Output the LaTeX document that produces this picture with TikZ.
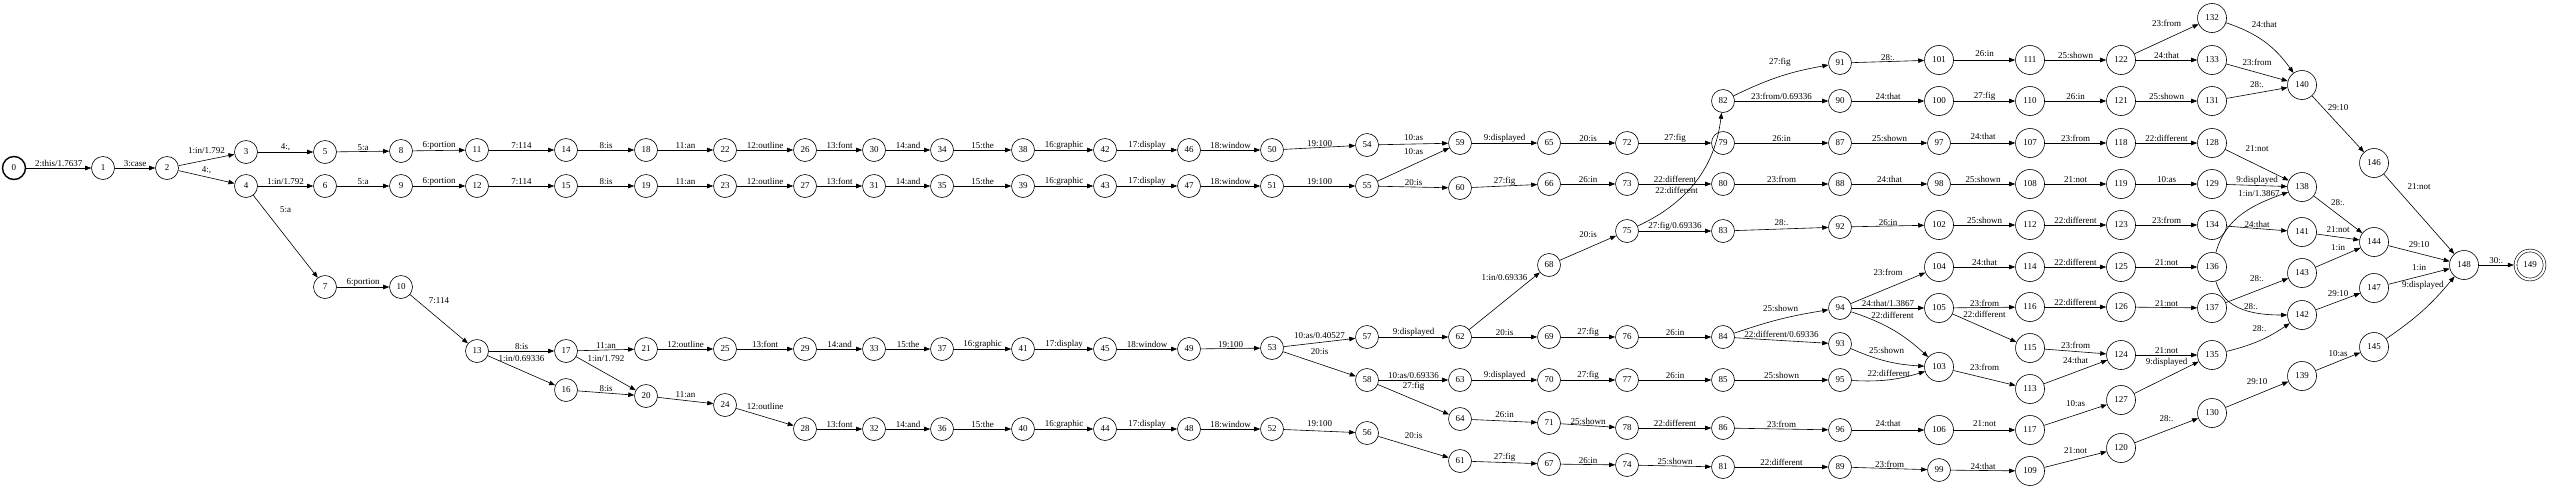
\documentclass[tikz,border=0pt]{standalone}
\usepackage{fontspec}
\setmainfont{Liberation Serif}
\usetikzlibrary{arrows.meta}

\begin{document}
\begin{tikzpicture}[
	x=1pt, y=1pt,
	>={Triangle[length=6pt, width=4.5pt]},
	every node/.style={font=\fontsize{9}{10}\selectfont},
	state/.style={circle, draw, line width=0.6pt, minimum size=23pt, inner sep=0pt},
	wide/.style={state, minimum size=29pt},
	trans/.style={->, line width=0.6pt},
	lbl/.style={above, inner sep=0.6pt}
]
	\useasboundingbox (0, 0) rectangle (2550, -488);

	% states, column by column
	\node[state, line width=1.4pt] (n0) at (14, -168) {0};
	\node[state] (n1) at (103, -168) {1};
	\node[state] (n2) at (167, -168) {2};
	\node[state] (n3) at (246, -152) {3};
	\node[state] (n4) at (246, -186) {4};
	\node[state] (n5) at (325, -152) {5};
	\node[state] (n6) at (325, -186) {6};
	\node[state] (n7) at (325, -287) {7};
	\node[state] (n8) at (401, -151) {8};
	\node[state] (n9) at (401, -186) {9};
	\node[state] (n10) at (401, -287) {10};
	\node[state] (n11) at (477, -150) {11};
	\node[state] (n12) at (477, -186) {12};
	\node[state] (n13) at (477, -351) {13};
	\node[state] (n14) at (566, -150) {14};
	\node[state] (n15) at (566, -186) {15};
	\node[state] (n17) at (566, -351) {17};
	\node[state] (n16) at (566, -390) {16};
	\node[state] (n18) at (646, -150) {18};
	\node[state] (n19) at (646, -186) {19};
	\node[state] (n21) at (646, -349) {21};
	\node[state] (n20) at (646, -396) {20};
	\node[state] (n22) at (725, -150) {22};
	\node[state] (n23) at (725, -186) {23};
	\node[state] (n25) at (725, -349) {25};
	\node[state] (n24) at (725, -405) {24};
	\node[state] (n26) at (805, -150) {26};
	\node[state] (n27) at (805, -186) {27};
	\node[state] (n29) at (805, -349) {29};
	\node[state] (n28) at (805, -429) {28};
	\node[state] (n30) at (874, -150) {30};
	\node[state] (n31) at (874, -186) {31};
	\node[state] (n33) at (874, -349) {33};
	\node[state] (n32) at (874, -429) {32};
	\node[state] (n34) at (942, -150) {34};
	\node[state] (n35) at (942, -186) {35};
	\node[state] (n37) at (942, -349) {37};
	\node[state] (n36) at (942, -429) {36};
	\node[state] (n38) at (1023, -150) {38};
	\node[state] (n39) at (1023, -186) {39};
	\node[state] (n41) at (1023, -349) {41};
	\node[state] (n40) at (1023, -429) {40};
	\node[state] (n42) at (1105, -150) {42};
	\node[state] (n43) at (1105, -186) {43};
	\node[state] (n45) at (1105, -349) {45};
	\node[state] (n44) at (1105, -429) {44};
	\node[state] (n46) at (1189, -150) {46};
	\node[state] (n47) at (1189, -186) {47};
	\node[state] (n49) at (1189, -349) {49};
	\node[state] (n48) at (1189, -429) {48};
	\node[state] (n50) at (1272, -150) {50};
	\node[state] (n51) at (1272, -186) {51};
	\node[state] (n53) at (1272, -348) {53};
	\node[state] (n52) at (1272, -429) {52};
	\node[state] (n54) at (1367, -145) {54};
	\node[state] (n55) at (1367, -186) {55};
	\node[state] (n57) at (1367, -337) {57};
	\node[state] (n58) at (1367, -380) {58};
	\node[state] (n56) at (1367, -433) {56};
	\node[state] (n59) at (1460, -143) {59};
	\node[state] (n60) at (1460, -188) {60};
	\node[state] (n62) at (1460, -337) {62};
	\node[state] (n63) at (1460, -380) {63};
	\node[state] (n64) at (1460, -419) {64};
	\node[state] (n61) at (1460, -461) {61};
	\node[state] (n65) at (1549, -143) {65};
	\node[state] (n66) at (1549, -184) {66};
	\node[state] (n68) at (1549, -265) {68};
	\node[state] (n69) at (1549, -337) {69};
	\node[state] (n70) at (1549, -380) {70};
	\node[state] (n71) at (1549, -423) {71};
	\node[state] (n67) at (1549, -464) {67};
	\node[state] (n72) at (1627, -143) {72};
	\node[state] (n73) at (1627, -184) {73};
	\node[state] (n75) at (1627, -231) {75};
	\node[state] (n76) at (1627, -337) {76};
	\node[state] (n77) at (1627, -380) {77};
	\node[state] (n78) at (1627, -428) {78};
	\node[state] (n74) at (1627, -465) {74};
	\node[state] (n82) at (1723, -101) {82};
	\node[state] (n79) at (1723, -143) {79};
	\node[state] (n80) at (1723, -184) {80};
	\node[state] (n83) at (1723, -231) {83};
	\node[state] (n84) at (1723, -337) {84};
	\node[state] (n85) at (1723, -380) {85};
	\node[state] (n86) at (1723, -428) {86};
	\node[state] (n81) at (1723, -467) {81};
	\node[state] (n91) at (1840, -63) {91};
	\node[state] (n90) at (1840, -101) {90};
	\node[state] (n87) at (1840, -143) {87};
	\node[state] (n88) at (1840, -184) {88};
	\node[state] (n92) at (1840, -227) {92};
	\node[state] (n94) at (1840, -308) {94};
	\node[state] (n93) at (1840, -344) {93};
	\node[state] (n95) at (1840, -380) {95};
	\node[state] (n96) at (1840, -430) {96};
	\node[state] (n89) at (1840, -467) {89};
	\node[wide] (n101) at (1939, -60) {101};
	\node[wide] (n100) at (1939, -101) {100};
	\node[state] (n97) at (1939, -143) {97};
	\node[state] (n98) at (1939, -184) {98};
	\node[wide] (n102) at (1939, -225) {102};
	\node[wide] (n104) at (1939, -267) {104};
	\node[wide] (n105) at (1939, -308) {105};
	\node[wide] (n103) at (1939, -367) {103};
	\node[wide] (n106) at (1939, -430) {106};
	\node[state] (n99) at (1939, -470) {99};
	\node[wide] (n111) at (2030, -60) {111};
	\node[wide] (n110) at (2030, -101) {110};
	\node[wide] (n107) at (2030, -143) {107};
	\node[wide] (n108) at (2030, -184) {108};
	\node[wide] (n112) at (2030, -225) {112};
	\node[wide] (n114) at (2030, -267) {114};
	\node[wide] (n116) at (2030, -307) {116};
	\node[wide] (n115) at (2030, -348) {115};
	\node[wide] (n113) at (2030, -389) {113};
	\node[wide] (n117) at (2030, -430) {117};
	\node[wide] (n109) at (2030, -471) {109};
	\node[wide] (n122) at (2121, -60) {122};
	\node[wide] (n121) at (2121, -101) {121};
	\node[wide] (n118) at (2121, -143) {118};
	\node[wide] (n119) at (2121, -184) {119};
	\node[wide] (n123) at (2121, -225) {123};
	\node[wide] (n125) at (2121, -267) {125};
	\node[wide] (n126) at (2121, -307) {126};
	\node[wide] (n124) at (2121, -355) {124};
	\node[wide] (n127) at (2121, -400) {127};
	\node[wide] (n120) at (2121, -448) {120};
	\node[wide] (n132) at (2212, -18) {132};
	\node[wide] (n133) at (2212, -60) {133};
	\node[wide] (n131) at (2212, -101) {131};
	\node[wide] (n128) at (2212, -143) {128};
	\node[wide] (n129) at (2212, -184) {129};
	\node[wide] (n134) at (2212, -225) {134};
	\node[wide] (n136) at (2212, -267) {136};
	\node[wide] (n137) at (2212, -308) {137};
	\node[wide] (n135) at (2212, -355) {135};
	\node[wide] (n130) at (2212, -413) {130};
	\node[wide] (n140) at (2302, -85) {140};
	\node[wide] (n138) at (2302, -187) {138};
	\node[wide] (n141) at (2302, -232) {141};
	\node[wide] (n143) at (2302, -273) {143};
	\node[wide] (n142) at (2302, -315) {142};
	\node[wide] (n139) at (2302, -376) {139};
	\node[wide] (n146) at (2374, -163) {146};
	\node[wide] (n144) at (2374, -242) {144};
	\node[wide] (n147) at (2374, -288) {147};
	\node[wide] (n145) at (2374, -347) {145};
	\node[wide] (n148) at (2464, -265) {148};
	\node[wide, double, double distance=2.2pt, outer sep=1.7pt] (n149) at (2530, -265) {149};

	% transitions
	\draw[trans] (n0) -- node [lbl] {2:this/1.7637} (n1);
	\draw[trans] (n1) -- node [lbl] {3:case} (n2);
	\draw[trans] (n2) -- node [lbl, above=5pt] {1:in/1.792} (n3);
	\draw[trans] (n2) -- node [lbl, above=2pt] {4:,} (n4);
	\draw[trans] (n3) -- node [lbl] {4:,} (n5);
	\draw[trans] (n4) -- node [lbl] {1:in/1.792} (n6);
	\draw[trans] (n4) -- node [lbl, above=23pt] {5:a} (n7);
	\draw[trans] (n5) -- node [lbl] {5:a} (n8);
	\draw[trans] (n6) -- node [lbl] {5:a} (n9);
	\draw[trans] (n7) -- node [lbl] {6:portion} (n10);
	\draw[trans] (n8) -- node [lbl] {6:portion} (n11);
	\draw[trans] (n9) -- node [lbl] {6:portion} (n12);
	\draw[trans] (n10) -- node [lbl, above=14pt] {7:114} (n13);
	\draw[trans] (n11) -- node [lbl] {7:114} (n14);
	\draw[trans] (n12) -- node [lbl] {7:114} (n15);
	\draw[trans] (n13) -- node [lbl] {8:is} (n17);
	\draw[trans] (n13) -- node [lbl, above=8pt] {1:in/0.69336} (n16);
	\draw[trans] (n14) -- node [lbl] {8:is} (n18);
	\draw[trans] (n15) -- node [lbl] {8:is} (n19);
	\draw[trans] (n16) -- node [lbl] {8:is} (n20);
	\draw[trans] (n17) -- node [lbl] {11:an} (n21);
	\draw[trans] (n17) -- node [lbl, above=11pt] {1:in/1.792} (n20);
	\draw[trans] (n18) -- node [lbl] {11:an} (n22);
	\draw[trans] (n19) -- node [lbl] {11:an} (n23);
	\draw[trans] (n20) -- node [lbl, above=2pt] {11:an} (n24);
	\draw[trans] (n21) -- node [lbl] {12:outline} (n25);
	\draw[trans] (n22) -- node [lbl] {12:outline} (n26);
	\draw[trans] (n23) -- node [lbl] {12:outline} (n27);
	\draw[trans] (n24) -- node [lbl, above=6pt] {12:outline} (n28);
	\draw[trans] (n25) -- node [lbl] {13:font} (n29);
	\draw[trans] (n26) -- node [lbl] {13:font} (n30);
	\draw[trans] (n27) -- node [lbl] {13:font} (n31);
	\draw[trans] (n28) -- node [lbl] {13:font} (n32);
	\draw[trans] (n29) -- node [lbl] {14:and} (n33);
	\draw[trans] (n30) -- node [lbl] {14:and} (n34);
	\draw[trans] (n31) -- node [lbl] {14:and} (n35);
	\draw[trans] (n32) -- node [lbl] {14:and} (n36);
	\draw[trans] (n33) -- node [lbl] {15:the} (n37);
	\draw[trans] (n34) -- node [lbl] {15:the} (n38);
	\draw[trans] (n35) -- node [lbl] {15:the} (n39);
	\draw[trans] (n36) -- node [lbl] {15:the} (n40);
	\draw[trans] (n37) -- node [lbl] {16:graphic} (n41);
	\draw[trans] (n38) -- node [lbl] {16:graphic} (n42);
	\draw[trans] (n39) -- node [lbl] {16:graphic} (n43);
	\draw[trans] (n40) -- node [lbl] {16:graphic} (n44);
	\draw[trans] (n41) -- node [lbl] {17:display} (n45);
	\draw[trans] (n42) -- node [lbl] {17:display} (n46);
	\draw[trans] (n43) -- node [lbl] {17:display} (n47);
	\draw[trans] (n44) -- node [lbl] {17:display} (n48);
	\draw[trans] (n45) -- node [lbl] {18:window} (n49);
	\draw[trans] (n46) -- node [lbl] {18:window} (n50);
	\draw[trans] (n47) -- node [lbl] {18:window} (n51);
	\draw[trans] (n48) -- node [lbl] {18:window} (n52);
	\draw[trans] (n49) -- node [lbl] {19:100} (n53);
	\draw[trans] (n50) -- node [lbl] {19:100} (n54);
	\draw[trans] (n51) -- node [lbl] {19:100} (n55);
	\draw[trans] (n52) -- node [lbl, above=3pt] {19:100} (n56);
	\draw[trans] (n53) -- node [lbl, above=3pt] {10:as/0.40527} (n57);
	\draw[trans] (n53) -- node [lbl, above=8pt] {20:is} (n58);
	\draw[trans] (n54) -- node [lbl, above=2pt] {10:as} (n59);
	\draw[trans] (n55) -- node [lbl, above=9pt] {10:as} (n59);
	\draw[trans] (n55) -- node [lbl] {20:is} (n60);
	\draw[trans] (n56) -- node [lbl, above=7pt] {20:is} (n61);
	\draw[trans] (n57) -- node [lbl] {9:displayed} (n62);
	\draw[trans] (n58) -- node [lbl] {10:as/0.69336} (n63);
	\draw[trans] (n58) -- node [lbl, above=8pt] {27:fig} (n64);
	\draw[trans] (n59) -- node [lbl] {9:displayed} (n65);
	\draw[trans] (n60) -- node [lbl] {27:fig} (n66);
	\draw[trans] (n61) -- node [lbl] {27:fig} (n67);
	\draw[trans] (n62) -- node [lbl, above=19pt] {1:in/0.69336} (n68);
	\draw[trans] (n62) -- node [lbl] {20:is} (n69);
	\draw[trans] (n63) -- node [lbl] {9:displayed} (n70);
	\draw[trans] (n64) -- node [lbl, above=2pt] {26:in} (n71);
	\draw[trans] (n65) -- node [lbl] {20:is} (n72);
	\draw[trans] (n66) -- node [lbl] {26:in} (n73);
	\draw[trans] (n67) -- node [lbl] {26:in} (n74);
	\draw[trans] (n68) -- node [lbl, above=9pt] {20:is} (n75);
	\draw[trans] (n69) -- node [lbl] {27:fig} (n76);
	\draw[trans] (n70) -- node [lbl] {27:fig} (n77);
	\draw[trans] (n71) -- node [lbl] {25:shown} (n78);
	\draw[trans] (n72) -- node [lbl] {27:fig} (n79);
	\draw[trans] (n73) -- node [lbl] {22:different} (n80);
	\draw[trans] (n75) to[out=25, in=-97] node [lbl, pos=.3, above=7pt] {22:different} (n82);
	\draw[trans] (n75) -- node [lbl] {27:fig/0.69336} (n83);
	\draw[trans] (n76) -- node [lbl] {26:in} (n84);
	\draw[trans] (n77) -- node [lbl] {26:in} (n85);
	\draw[trans] (n78) -- node [lbl] {22:different} (n86);
	\draw[trans] (n74) -- node [lbl] {25:shown} (n81);
	\draw[trans] (n79) -- node [lbl] {26:in} (n87);
	\draw[trans] (n80) -- node [lbl] {23:from} (n88);
	\draw[trans] (n82) to[bend left=8] node [lbl, above=9pt] {27:fig} (n91);
	\draw[trans] (n82) -- node [lbl] {23:from/0.69336} (n90);
	\draw[trans] (n83) -- node [lbl, above=2pt] {28:.} (n92);
	\draw[trans] (n84) to[bend left=5] node [lbl, above=7pt] {25:shown} (n94);
	\draw[trans] (n84) -- node [lbl, above=2pt] {22:different/0.69336} (n93);
	\draw[trans] (n85) -- node [lbl] {25:shown} (n95);
	\draw[trans] (n86) -- node [lbl] {23:from} (n96);
	\draw[trans] (n81) -- node [lbl] {22:different} (n89);
	\draw[trans] (n87) -- node [lbl] {25:shown} (n97);
	\draw[trans] (n88) -- node [lbl] {24:that} (n98);
	\draw[trans] (n90) -- node [lbl] {24:that} (n100);
	\draw[trans] (n91) -- node [lbl] {28:.} (n101);
	\draw[trans] (n92) -- node [lbl] {26:in} (n102);
	\draw[trans] (n94) -- node [lbl, above=12pt] {23:from} (n104);
	\draw[trans] (n94) -- node [lbl] {24:that/1.3867} (n105);
	\draw[trans] (n94) to[bend left=12] node [lbl, above=10pt] {22:different} (n103);
	\draw[trans] (n93) to[bend right=10] node [lbl, above=7pt] {25:shown} (n103);
	\draw[trans] (n95) to[bend right=10] node [lbl, above=2pt] {22:different} (n103);
	\draw[trans] (n96) -- node [lbl, above=2pt] {24:that} (n106);
	\draw[trans] (n89) -- node [lbl] {23:from} (n99);
	\draw[trans] (n97) -- node [lbl, above=2pt] {24:that} (n107);
	\draw[trans] (n98) -- node [lbl] {25:shown} (n108);
	\draw[trans] (n99) -- node [lbl] {24:that} (n109);
	\draw[trans] (n100) -- node [lbl] {27:fig} (n110);
	\draw[trans] (n101) -- node [lbl, above=2pt] {26:in} (n111);
	\draw[trans] (n102) -- node [lbl] {25:shown} (n112);
	\draw[trans] (n103) -- node [lbl, above=6pt] {23:from} (n113);
	\draw[trans] (n104) -- node [lbl] {24:that} (n114);
	\draw[trans] (n105) -- node [lbl] {23:from} (n116);
	\draw[trans] (n105) -- node [lbl, above=9pt] {22:different} (n115);
	\draw[trans] (n106) -- node [lbl, above=2pt] {21:not} (n117);
	\draw[trans] (n110) -- node [lbl] {26:in} (n121);
	\draw[trans] (n111) -- node [lbl] {25:shown} (n122);
	\draw[trans] (n107) -- node [lbl] {23:from} (n118);
	\draw[trans] (n108) -- node [lbl] {21:not} (n119);
	\draw[trans] (n112) -- node [lbl] {22:different} (n123);
	\draw[trans] (n114) -- node [lbl] {22:different} (n125);
	\draw[trans] (n116) -- node [lbl] {22:different} (n126);
	\draw[trans] (n115) -- node [lbl, above=2pt] {23:from} (n124);
	\draw[trans] (n113) -- node [lbl, above=7pt] {24:that} (n124);
	\draw[trans] (n117) -- node [lbl, above=7pt] {10:as} (n127);
	\draw[trans] (n109) -- node [lbl, above=5pt] {21:not} (n120);
	\draw[trans] (n122) -- node [lbl, above=11pt] {23:from} (n132);
	\draw[trans] (n122) -- node [lbl] {24:that} (n133);
	\draw[trans] (n121) -- node [lbl] {25:shown} (n131);
	\draw[trans] (n118) -- node [lbl] {22:different} (n128);
	\draw[trans] (n119) -- node [lbl] {10:as} (n129);
	\draw[trans] (n123) -- node [lbl] {23:from} (n134);
	\draw[trans] (n125) -- node [lbl] {21:not} (n136);
	\draw[trans] (n126) -- node [lbl] {21:not} (n137);
	\draw[trans] (n124) -- node [lbl] {21:not} (n135);
	\draw[trans] (n127) -- node [lbl, above=10pt] {9:displayed} (n135);
	\draw[trans] (n120) -- node [lbl, above=8pt] {28:.} (n130);
	\draw[trans] (n132) to[bend left=18] node [lbl, above=13pt] {24:that} (n140);
	\draw[trans] (n133) -- node [lbl, above=6pt] {23:from} (n140);
	\draw[trans] (n131) -- node [lbl, above=4pt] {28:.} (n140);
	\draw[trans] (n128) -- node [lbl, above=12pt] {21:not} (n138);
	\draw[trans] (n129) -- node [lbl] {9:displayed} (n138);
	\draw[trans] (n136) to[out=75, in=200] node [lbl, pos=.7, above=6pt] {1:in/1.3867} (n138);
	\draw[trans] (n134) -- node [lbl] {24:that} (n141);
	\draw[trans] (n137) -- node [lbl, above=8pt] {28:.} (n143);
	\draw[trans] (n136) to[out=-75, in=180] node [lbl, pos=.6, above=1pt] {28:.} (n142);
	\draw[trans] (n135) to[bend right=10] node [lbl, above=8pt] {28:.} (n142);
	\draw[trans] (n130) -- node [lbl, above=9pt] {29:10} (n139);
	\draw[trans] (n140) -- node [lbl, above=12pt] {29:10} (n146);
	\draw[trans] (n138) -- node [lbl, above=8pt] {28:.} (n144);
	\draw[trans] (n141) -- node [lbl, above=3pt] {21:not} (n144);
	\draw[trans] (n143) -- node [lbl, above=6pt] {1:in} (n144);
	\draw[trans] (n142) -- node [lbl, above=4pt] {29:10} (n147);
	\draw[trans] (n139) -- node [lbl, above=4pt] {10:as} (n145);
	\draw[trans] (n146) -- node [lbl, above=23pt] {21:not} (n148);
	\draw[trans] (n144) -- node [lbl, above=5pt] {29:10} (n148);
	\draw[trans] (n147) -- node [lbl, above=5pt] {1:in} (n148);
	\draw[trans] (n145) to[bend right=8] node [lbl, above=20pt] {9:displayed} (n148);
	\draw[trans] (n148) -- node [lbl] {30:.} (n149);

\end{tikzpicture}
\end{document}
